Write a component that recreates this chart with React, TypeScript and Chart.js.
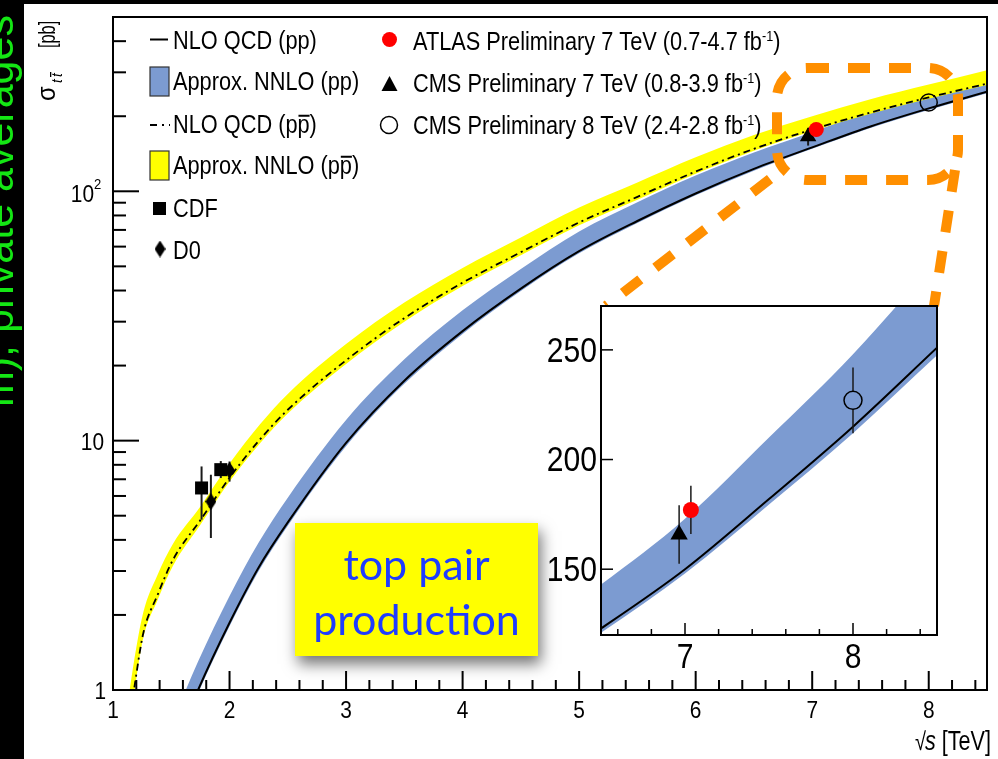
import { useEffect, useRef } from "react";
import { Chart, registerables } from "chart.js";

Chart.register(...registerables);

const FONT = "'Liberation Sans', Arial, Helvetica, sans-serif";
const SX = 0.87;
const BLUE = "rgb(124,155,209)";
const YELLOW = "rgb(255,255,0)";
const ORANGE = "rgb(255,143,0)";

// ---- theory curves: sqrt(s) in TeV, cross sections in pb ----
const ppEnergy = [1.6, 1.73, 2.0, 2.25, 2.5, 3.0, 3.5, 4.0, 4.5, 5.0, 5.5, 6.0, 6.5, 7.0, 7.5, 8.0, 8.5];
const ppNLO = [0.71, 1.0, 1.86, 3.1, 4.7, 9.8, 17.4, 27.5, 40.7, 57.5, 76, 98, 123, 150, 182, 215, 251];
const ppNNLOHigh = [0.94, 1.3, 2.38, 3.9, 5.9, 12.1, 21.2, 33.3, 48.8, 69, 90.4, 115.6, 143, 173, 210, 248, 291];
const ppNNLOLow = [0.69, 0.97, 1.8, 3.0, 4.56, 9.5, 16.9, 26.8, 39.8, 56.4, 74.6, 96.3, 121, 148, 179.5, 212, 247.5];

const ppbarEnergy = [1.1, 1.18, 1.26, 1.38, 1.515, 1.75, 2.0, 2.26, 2.5, 3.0, 3.5, 4.0, 4.5, 5.0, 5.5, 6.0, 6.5, 7.0, 7.5, 8.0, 8.5];
const ppbarNLO = [0.55, 1.0, 1.69, 2.39, 3.33, 4.8, 7.1, 10.1, 13.3, 21, 31, 43, 57, 75, 95, 120, 148, 177, 207, 238, 270];
const ppbarNNLOHigh = [0.72, 1.3, 2.05, 2.88, 3.86, 5.45, 8.1, 11.6, 15.4, 24.4, 35.8, 49.3, 65.3, 86, 108.5, 137, 168, 200, 234, 268, 306];
const ppbarNNLOLow = [0.52, 0.96, 1.62, 2.28, 3.15, 4.6, 6.85, 9.75, 12.85, 20.3, 30, 41.7, 55.4, 73, 92.5, 117.5, 145.5, 174.5, 204.5, 235, 267];

// ---- measurements ----
const cdfEnergy = [1.76, 1.925];
const cdfSigma = [6.46, 7.65];
const cdfErrUp = [1.42, 0.63];
const cdfErrDown = [1.64, 0.57];

const d0Energy = [1.84, 2.0];
const d0Sigma = [5.7, 7.6];
const d0ErrUp = [1.6, 0.65];
const d0ErrDown = [1.63, 0.75];

const atlasEnergy = [7.035];
const atlasSigma = [177];
const atlasErr = [11];

const cms7Energy = [6.965];
const cms7Sigma = [165.8];
const cms7Err = [13.3];

const cms8Energy = [8.0];
const cms8Sigma = [227];
const cms8Err = [15];

// ---- axes ----
const mainXTicks = [1, 2, 3, 4, 5, 6, 7, 8];
const mainYDecades = [1, 10, 100];
const insetXTicks = [7, 8];
const insetYTicks = [150, 200, 250];

type Seg = { t: string; sup?: boolean; bar?: boolean };
const legendLeft: Seg[][] = [
  [{ t: "NLO QCD (pp)" }],
  [{ t: "Approx. NNLO (pp)" }],
  [{ t: "NLO QCD (p" }, { t: "p", bar: true }, { t: ")" }],
  [{ t: "Approx. NNLO (p" }, { t: "p", bar: true }, { t: ")" }],
  [{ t: "CDF" }],
  [{ t: "D0" }],
];
const legendRight: Seg[][] = [
  [{ t: "ATLAS Preliminary 7 TeV (0.7-4.7 fb" }, { t: "-1", sup: true }, { t: ")" }],
  [{ t: "CMS Preliminary 7 TeV (0.8-3.9 fb" }, { t: "-1", sup: true }, { t: ")" }],
  [{ t: "CMS Preliminary 8 TeV (2.4-2.8 fb" }, { t: "-1", sup: true }, { t: ")" }],
];
const boxLines = ["top pair", "production"];
const sideNote = "\u02D9m), private averages";

const pts = (xs: number[], ys: number[]) => xs.map((x, i) => ({ x, y: ys[i] }));

function text(
  ctx: CanvasRenderingContext2D,
  s: string,
  x: number,
  y: number,
  size: number,
  o: { align?: CanvasTextAlign; base?: CanvasTextBaseline; sx?: number; style?: string; family?: string; color?: string } = {}
) {
  ctx.save();
  ctx.font = `${o.style ?? ""} ${size}px ${o.family ?? FONT}`;
  ctx.fillStyle = o.color ?? "#000";
  ctx.textAlign = o.align ?? "left";
  ctx.textBaseline = o.base ?? "alphabetic";
  ctx.translate(x, y);
  ctx.scale(o.sx ?? SX, 1);
  ctx.fillText(s, 0, 0);
  ctx.restore();
}

function width(ctx: CanvasRenderingContext2D, s: string, size: number, sx = SX, style = "") {
  ctx.save();
  ctx.font = `${style} ${size}px ${FONT}`;
  const w = ctx.measureText(s).width * sx;
  ctx.restore();
  return w;
}

function rich(ctx: CanvasRenderingContext2D, segs: Seg[], x: number, y: number, size: number) {
  let cx = x;
  for (const s of segs) {
    const fs = s.sup ? size * 0.58 : size;
    const w = width(ctx, s.t, fs);
    text(ctx, s.t, cx, s.sup ? y - size * 0.36 : y, fs);
    if (s.bar) {
      ctx.fillStyle = "#000";
      ctx.fillRect(cx + 1, y - size * 0.73, w - 1, 2);
    }
    cx += w;
  }
}

function seg(ctx: CanvasRenderingContext2D, x1: number, y1: number, x2: number, y2: number) {
  ctx.beginPath();
  ctx.moveTo(x1, y1);
  ctx.lineTo(x2, y2);
  ctx.stroke();
}

function diamondImage(w: number, h: number) {
  const c = document.createElement("canvas");
  c.width = w;
  c.height = h;
  const g = c.getContext("2d")!;
  g.fillStyle = "#000";
  g.beginPath();
  g.moveTo(w / 2, 0);
  g.lineTo(w, h / 2);
  g.lineTo(w / 2, h);
  g.lineTo(0, h / 2);
  g.closePath();
  g.fill();
  return c;
}

const errorBars = {
  id: "errorBars",
  beforeDatasetDraw(chart: any, args: any) {
    const ds = chart.data.datasets[args.index];
    if (!ds.errUp) return;
    const ctx: CanvasRenderingContext2D = chart.ctx;
    const xs = chart.scales.x;
    const ys = chart.scales.y;
    ctx.save();
    ctx.strokeStyle = "#1a1a1a";
    ctx.lineWidth = ds.errWidth ?? 2;
    ds.data.forEach((p: any, i: number) => {
      const px = xs.getPixelForValue(p.x);
      const yc = ys.getPixelForValue(p.y);
      const yt = ys.getPixelForValue(p.y + ds.errUp[i]);
      const yb = ys.getPixelForValue(p.y - ds.errDown[i]);
      const gap = ds.errGap ?? 0;
      if (yc - gap > yt) seg(ctx, px, yt, px, yc - gap);
      if (yb > yc + gap) seg(ctx, px, yc + gap, px, yb);
    });
    ctx.restore();
  },
};

function band(xs: number[], hi: number[], lo: number[], color: string) {
  return [
    {
      data: pts(xs, hi),
      borderColor: "rgba(0,0,0,0)",
      backgroundColor: color,
      fill: "+1",
      pointRadius: 0,
      cubicInterpolationMode: "monotone",
    },
    {
      data: pts(xs, lo),
      borderColor: "rgba(0,0,0,0)",
      fill: false,
      pointRadius: 0,
      cubicInterpolationMode: "monotone",
    },
  ];
}

function markers(xs: number[], ys: number[], up: number[], down: number[], style: any) {
  return {
    data: pts(xs, ys),
    showLine: false,
    errUp: up,
    errDown: down,
    ...style,
  };
}

function mainConfig(diamond: HTMLCanvasElement): any {
  const decor = {
    id: "mainDecor",
    beforeDraw(chart: any) {
      const ctx: CanvasRenderingContext2D = chart.ctx;
      ctx.save();
      ctx.fillStyle = "#fff";
      ctx.fillRect(0, 0, 998, 759);
      ctx.fillStyle = "#000";
      ctx.fillRect(0, 0, 24, 759);
      ctx.fillRect(0, 0, 998, 4);
      // rotated side note, partly hidden at the page edge
      ctx.beginPath();
      ctx.rect(0, 0, 24, 759);
      ctx.clip();
      ctx.translate(13, 333);
      ctx.rotate(-Math.PI / 2);
      ctx.font = `43px ${FONT}`;
      ctx.fillStyle = "rgb(20,230,20)";
      const cut = sideNote.indexOf("private");
      const pre = ctx.measureText(sideNote.slice(0, cut)).width;
      ctx.fillText(sideNote, -pre, 0);
      ctx.restore();
    },
    afterDraw(chart: any) {
      const ctx: CanvasRenderingContext2D = chart.ctx;
      const { left, right, top, bottom } = chart.chartArea;
      const xs = chart.scales.x;
      const ys = chart.scales.y;
      ctx.save();
      ctx.strokeStyle = "#000";
      ctx.lineWidth = 2;
      ctx.strokeRect(left, top, right - left, bottom - top);
      // x ticks every 0.2 TeV
      for (let i = 0; i <= 37; i++) {
        const v = 1 + i * 0.2;
        const px = xs.getPixelForValue(v);
        seg(ctx, px, bottom, px, bottom - (i % 5 === 0 ? 19 : 10));
      }
      // log y ticks
      for (const d of mainYDecades) {
        for (let m = 1; m <= 9; m++) {
          const v = m * d;
          if (v >= 500) break;
          const py = ys.getPixelForValue(v);
          seg(ctx, left, py, left + (m === 1 ? 26 : 13), py);
        }
      }
      ctx.restore();

      for (const v of mainXTicks) {
        text(ctx, String(v), xs.getPixelForValue(v), 711, 24, { align: "center", base: "middle" });
      }
      text(ctx, "1", 106, ys.getPixelForValue(1) + 2, 24, { align: "right", base: "middle" });
      text(ctx, "10", 104, ys.getPixelForValue(10) + 3, 24, { align: "right", base: "middle" });
      text(ctx, "10", 94, ys.getPixelForValue(100) + 4, 24, { align: "right", base: "middle" });
      text(ctx, "2", 94, ys.getPixelForValue(100) - 6, 15, { align: "left", base: "middle" });

      // x title: sqrt(s) [TeV]
      const tev = " [TeV]";
      const wTev = width(ctx, tev, 27, 0.8);
      const wS = width(ctx, "s", 27, 0.8, "italic");
      const wR = width(ctx, "\u221A", 25, 0.8);
      const xEnd = 991;
      text(ctx, tev, xEnd - wTev, 750, 27, { sx: 0.8 });
      text(ctx, "s", xEnd - wTev - wS, 750, 27, { style: "italic", sx: 0.8 });
      text(ctx, "\u221A", xEnd - wTev - wS - wR + 1, 750, 25, { sx: 0.8 });

      // y title: sigma_tt [pb], rotated
      ctx.save();
      ctx.translate(55, 101);
      ctx.rotate(-Math.PI / 2);
      text(ctx, "\u03C3", 0, 0, 25, { sx: 0.95 });
      text(ctx, "t", 18, 7, 15, { style: "italic", sx: 0.9 });
      text(ctx, "t", 24, 7, 15, { style: "italic", sx: 0.9 });
      ctx.fillStyle = "#000";
      ctx.fillRect(24, -5, 5, 1.3);
      text(ctx, "[pb]", 53, 0, 24, { sx: 0.68 });
      ctx.restore();

      // legend, left column
      const leftBase = [49, 90, 133, 174, 217, 259];
      legendLeft.forEach((row, i) => rich(ctx, row, 173, leftBase[i], 25));
      ctx.save();
      ctx.strokeStyle = "#000";
      ctx.lineWidth = 2;
      seg(ctx, 150, 39.5, 168, 39.5);
      ctx.setLineDash([7, 5, 2, 5]);
      ctx.lineWidth = 1.8;
      seg(ctx, 150, 125, 170, 125);
      ctx.setLineDash([]);
      ctx.lineWidth = 1.2;
      ctx.strokeStyle = "#333";
      ctx.fillStyle = BLUE;
      ctx.fillRect(150, 67, 19, 29);
      ctx.strokeRect(150, 67, 19, 29);
      ctx.fillStyle = YELLOW;
      ctx.fillRect(150, 151, 19, 29);
      ctx.strokeRect(150, 151, 19, 29);
      ctx.fillStyle = "#000";
      ctx.fillRect(153, 202, 13, 13);
      ctx.drawImage(diamond, 160 - diamond.width / 2, 249 - diamond.height / 2);
      ctx.restore();

      // legend, right column
      const rightBase = [50, 92, 134];
      legendRight.forEach((row, i) => rich(ctx, row, 413, rightBase[i], 25));
      ctx.save();
      ctx.fillStyle = "rgb(255,0,0)";
      ctx.beginPath();
      ctx.arc(389.5, 39.5, 7.5, 0, Math.PI * 2);
      ctx.fill();
      ctx.fillStyle = "#000";
      ctx.beginPath();
      ctx.moveTo(389.5, 76);
      ctx.lineTo(397.5, 91);
      ctx.lineTo(381.5, 91);
      ctx.closePath();
      ctx.fill();
      ctx.strokeStyle = "#000";
      ctx.lineWidth = 1.5;
      ctx.beginPath();
      ctx.arc(389, 125, 8.5, 0, Math.PI * 2);
      ctx.stroke();
      ctx.restore();

      // highlighted label box
      ctx.save();
      ctx.shadowColor = "rgba(0,0,0,0.55)";
      ctx.shadowBlur = 14;
      ctx.shadowOffsetX = 3;
      ctx.shadowOffsetY = 8;
      ctx.fillStyle = YELLOW;
      ctx.fillRect(295, 523, 243, 133);
      ctx.restore();
      const boxFont = "Lato, 'Open Sans', sans-serif";
      text(ctx, boxLines[0], 416.5, 580, 43, { align: "center", sx: 1, family: boxFont, color: "rgb(30,60,255)" });
      text(ctx, boxLines[1], 416.5, 635, 43, { align: "center", sx: 1, family: boxFont, color: "rgb(30,60,255)" });

      // zoom guide: dashed frame around the LHC points and lines to the inset
      ctx.save();
      ctx.strokeStyle = ORANGE;
      ctx.lineWidth = 10;
      ctx.setLineDash([22, 19]);
      ctx.beginPath();
      (ctx as any).roundRect(777, 68, 181, 112, 30);
      ctx.stroke();
      seg(ctx, 770, 179, 606, 306);
      seg(ctx, 955, 170, 934, 306);
      ctx.restore();
    },
  };

  return {
    type: "line",
    data: {
      datasets: [
        markers(atlasEnergy, atlasSigma, atlasErr, atlasErr, {
          pointStyle: "circle", pointRadius: 7.5, pointBackgroundColor: "rgb(255,0,0)", pointBorderColor: "rgb(255,0,0)", pointBorderWidth: 0,
        }),
        markers(cms7Energy, cms7Sigma, cms7Err, cms7Err, {
          pointStyle: "triangle", pointRadius: 9.5, pointBackgroundColor: "#000", pointBorderColor: "#000", pointBorderWidth: 0,
        }),
        markers(cms8Energy, cms8Sigma, cms8Err, cms8Err, {
          pointStyle: "circle", pointRadius: 8.5, pointBackgroundColor: "rgba(0,0,0,0)", pointBorderColor: "#000", pointBorderWidth: 1.5, errGap: 8.5, errWidth: 1.5,
        }),
        markers(cdfEnergy, cdfSigma, cdfErrUp, cdfErrDown, {
          pointStyle: "rect", pointRadius: 9.2, pointBackgroundColor: "#000", pointBorderColor: "#000", pointBorderWidth: 0,
        }),
        markers(d0Energy, d0Sigma, d0ErrUp, d0ErrDown, {
          pointStyle: diamond, pointRadius: 8,
        }),
        {
          data: pts(ppEnergy, ppNLO),
          borderColor: "#000",
          borderWidth: 2,
          pointRadius: 0,
          fill: false,
          cubicInterpolationMode: "monotone",
        },
        {
          data: pts(ppbarEnergy, ppbarNLO),
          borderColor: "#000",
          borderWidth: 1.8,
          borderDash: [7, 4, 2, 4],
          pointRadius: 0,
          fill: false,
          cubicInterpolationMode: "monotone",
        },
        ...band(ppbarEnergy, ppbarNNLOHigh, ppbarNNLOLow, YELLOW),
        ...band(ppEnergy, ppNNLOHigh, ppNNLOLow, BLUE),
      ],
    },
    options: {
      animation: false,
      responsive: false,
      maintainAspectRatio: false,
      events: [],
      layout: { padding: { left: 113, right: 11, top: 17, bottom: 69 } },
      plugins: { legend: { display: false }, tooltip: { enabled: false } },
      scales: {
        x: { type: "linear", min: 1, max: 8.5, display: false },
        y: { type: "logarithmic", min: 1, max: 500, display: false },
      },
    },
    plugins: [errorBars, decor],
  };
}

function insetConfig(): any {
  const decor = {
    id: "insetDecor",
    beforeDatasetsDraw(chart: any) {
      const ctx: CanvasRenderingContext2D = chart.ctx;
      const { left, right, top, bottom } = chart.chartArea;
      ctx.save();
      ctx.fillStyle = "#fff";
      ctx.fillRect(left, top, right - left, bottom - top);
      ctx.restore();
    },
    afterDraw(chart: any) {
      const ctx: CanvasRenderingContext2D = chart.ctx;
      const { left, right, top, bottom } = chart.chartArea;
      const xs = chart.scales.x;
      const ys = chart.scales.y;
      ctx.save();
      ctx.strokeStyle = "#000";
      ctx.lineWidth = 2;
      ctx.strokeRect(left, top, right - left, bottom - top);
      ctx.lineWidth = 1.5;
      for (let i = 0; i <= 9; i++) {
        const v = 6.6 + i * 0.2;
        const px = xs.getPixelForValue(v);
        const major = insetXTicks.some((t) => Math.abs(t - v) < 1e-6);
        seg(ctx, px, bottom, px, bottom - (major ? 12 : 6));
      }
      for (const v of insetYTicks) {
        const py = ys.getPixelForValue(v);
        seg(ctx, left, py, left + 12, py);
      }
      ctx.restore();
      for (const v of insetYTicks) {
        text(ctx, String(v), left - 4, ys.getPixelForValue(v) + 2, 35, { align: "right", base: "middle", sx: 0.86 });
      }
      for (const v of insetXTicks) {
        text(ctx, String(v), xs.getPixelForValue(v), bottom + 23, 35, { align: "center", base: "middle", sx: 0.86 });
      }
    },
  };

  return {
    type: "line",
    data: {
      datasets: [
        markers(atlasEnergy, atlasSigma, atlasErr, atlasErr, {
          pointStyle: "circle", pointRadius: 8, pointBackgroundColor: "rgb(255,0,0)", pointBorderColor: "rgb(255,0,0)", pointBorderWidth: 0, errWidth: 1.5,
        }),
        markers(cms7Energy, cms7Sigma, cms7Err, cms7Err, {
          pointStyle: "triangle", pointRadius: 10, pointBackgroundColor: "#000", pointBorderColor: "#000", pointBorderWidth: 0, errWidth: 1.5,
        }),
        markers(cms8Energy, cms8Sigma, cms8Err, cms8Err, {
          pointStyle: "circle", pointRadius: 9, pointBackgroundColor: "rgba(0,0,0,0)", pointBorderColor: "#000", pointBorderWidth: 1.5, errGap: 9, errWidth: 1.5,
        }),
        {
          data: pts(ppEnergy, ppNLO),
          borderColor: "#000",
          borderWidth: 2,
          pointRadius: 0,
          fill: false,
          cubicInterpolationMode: "monotone",
        },
        ...band(ppEnergy, ppNNLOHigh, ppNNLOLow, BLUE),
      ],
    },
    options: {
      animation: false,
      responsive: false,
      maintainAspectRatio: false,
      events: [],
      layout: { padding: { left: 71, right: 13, top: 16, bottom: 55 } },
      plugins: { legend: { display: false }, tooltip: { enabled: false } },
      scales: {
        x: { type: "linear", min: 6.5, max: 8.5, display: false },
        y: { type: "linear", min: 120, max: 270, display: false },
      },
    },
    plugins: [errorBars, decor],
  };
}

export default function App() {
  const mainRef = useRef<HTMLCanvasElement>(null);
  const insetRef = useRef<HTMLCanvasElement>(null);

  useEffect(() => {
    const diamond = diamondImage(11, 17);
    const main = new Chart(mainRef.current!, mainConfig(diamond));
    const inset = new Chart(insetRef.current!, insetConfig());
    return () => {
      main.destroy();
      inset.destroy();
    };
  }, []);

  return (
    <div style={{ position: "fixed", left: 0, top: 0, width: 998, height: 759, background: "#fff", overflow: "hidden" }}>
      <canvas ref={mainRef} width={998} height={759} style={{ position: "absolute", left: 0, top: 0, width: 998, height: 759 }} />
      <canvas ref={insetRef} width={420} height={400} style={{ position: "absolute", left: 530, top: 290, width: 420, height: 400 }} />
    </div>
  );
}
